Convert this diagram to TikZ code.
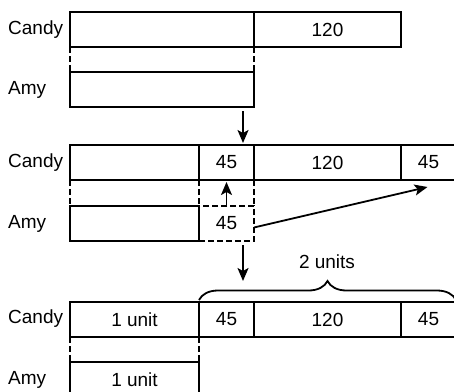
\documentclass[tikz,border=0pt]{standalone}
\usepackage{fontspec}
\setmainfont{Liberation Sans}
\usetikzlibrary{arrows.meta, decorations.pathreplacing}
\tikzset{
  every picture/.style={line join=miter},
  seg/.style={rectangle, draw=black, line width=1.8pt, anchor=north west,
    minimum height=35pt, inner sep=0pt, outer sep=0pt,
    font=\fontsize{19}{22}\selectfont},
  dseg/.style={seg, dash pattern=on 6pt off 3pt},
  who/.style={anchor=west, inner sep=0pt, font=\fontsize{19}{22}\selectfont},
  guide/.style={draw=black, line width=1.8pt, dash pattern=on 6pt off 3pt},
  move/.style={-{Stealth[length=13pt, width=11pt, inset=3pt]}, draw=black,
    line width=1.8pt},
  brace/.style={decorate, decoration={brace, amplitude=19pt}, draw=black,
    line width=1.8pt},
}

\begin{document}
\begin{tikzpicture}[x=1pt, y=-1pt]
\useasboundingbox (0,0) rectangle (454,391);
\clip (0,0) rectangle (454,391);

% ---- Step 1: Candy has 120 more than Amy
\node[who] (candyA) at (8, 29.5) {Candy};
\node[who] (amyA)   at (8, 89.5) {Amy};
\node[seg, minimum width=184pt] (c1a) at (70, 12)  {};
\node[seg, minimum width=147pt] (c1b) at (254, 12) {120};
\node[seg, minimum width=184pt] (a1a) at (70, 72)  {};
\draw[guide] (c1a.south west) -- (a1a.north west);
\draw[guide] (c1a.south east) -- (a1a.north east);

\coordinate (down1s) at (243, 111);
\coordinate (down1e) at (243, 143);
\draw[move] (down1s) -- (down1e);

% ---- Step 2: Amy gives 45 to Candy
\node[who] (candyB) at (8, 162.5) {Candy};
\node[who] (amyB)   at (8, 223.5) {Amy};
\node[seg, minimum width=129pt] (c2a) at (70, 145)  {};
\node[seg, minimum width=55pt]  (c2b) at (199, 145) {45};
\node[seg, minimum width=147pt] (c2c) at (254, 145) {120};
\node[seg, minimum width=55pt]  (c2d) at (401, 145) {45};
\node[dseg, minimum width=55pt] (a2b) at (199, 206) {45};
\node[seg, minimum width=129pt] (a2a) at (70, 206)  {};
\draw[guide] (c2a.south west) -- (a2a.north west);
\draw[guide] (c2b.south west) -- (a2b.north west);
\draw[guide] (c2b.south east) -- (a2b.north east);

\draw[move] (a2b.north) -- ([yshift=-2pt]c2b.south);
\draw[move] ([yshift=-4pt]a2b.east) -- ([xshift=-1pt, yshift=-7pt]c2d.south);

\coordinate (down2s) at (243, 245);
\coordinate (down2e) at (243, 281);
\draw[move] (down2s) -- (down2e);

% ---- Step 3: the difference is now 2 units
\node[who] (candyC) at (8, 319) {Candy};
\node[who] (amyC)   at (8, 379.5) {Amy};
\node[seg, minimum width=129pt] (c3a) at (70, 302)  {1 unit};
\node[seg, minimum width=55pt]  (c3b) at (199, 302) {45};
\node[seg, minimum width=147pt] (c3c) at (254, 302) {120};
\node[seg, minimum width=55pt]  (c3d) at (401, 302) {45};
\node[seg, minimum width=129pt] (a3a) at (70, 362)  {1 unit};
\draw[guide] (c3a.south west) -- (a3a.north west);
\draw[guide] (c3a.south east) -- (a3a.north east);

\draw[brace] ([yshift=2pt]c3b.north west) -- ([yshift=2pt]c3d.north east);
\node[who, anchor=center] (units) at (327, 262) {2 units};

\end{tikzpicture}
\end{document}
